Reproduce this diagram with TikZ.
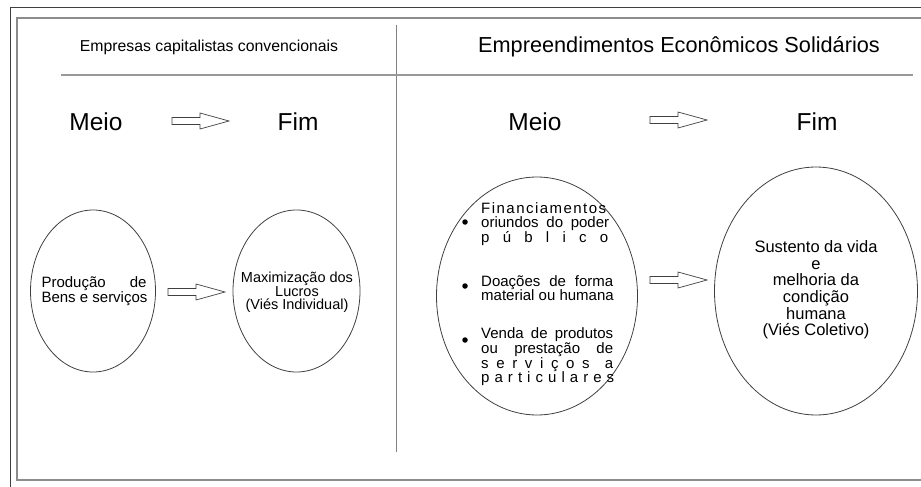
\documentclass[tikz,border=0pt]{standalone}
\usepackage{fontspec}
\setmainfont{Liberation Sans}
\usetikzlibrary{shapes.geometric}
\def\spreadit#1{\ifx#1\relax\else#1\hfill\expandafter\spreadit\fi}
\newcommand{\sprline}[2]{\hbox to #1{\spreadit#2\relax\unskip}}
\newcommand{\jline}[2]{\makebox[#1][s]{#2}}
\tikzset{
  outerframe/.style={draw=black!75, line width=1pt},
  innerframe/.style={draw=black!45, line width=1.6pt},
  sepline/.style={draw=black!50, line width=1pt},
  oval/.style={ellipse, draw=black!75, line width=0.8pt, inner sep=0pt},
  arrowline/.style={draw=black!75, line width=0.7pt},
  hdrsmall/.style={font=\fontsize{15.8}{18}\selectfont, inner sep=0pt},
  hdrbig/.style={font=\fontsize{21.7}{24}\selectfont, inner sep=0pt},
  mfword/.style={font=\fontsize{24.5}{28}\selectfont, inner sep=0pt},
  bullet/.style={circle, fill=black, inner sep=0pt, minimum size=5.5pt},
  blockarr/.pic={\path[arrowline] (0,-3.5) -- (28,-3.5) -- (28,-8) -- (57,0) -- (28,8) -- (28,3.5) -- (0,3.5) -- cycle;}
}
\begin{document}
\begin{tikzpicture}[x=1pt,y=-1pt]
\useasboundingbox (0,0) rectangle (921,487);
% frames
\draw[outerframe] (10,487) -- (10,8) -- (921,8);
\draw[innerframe] (921,18) -- (17,18) -- (17,480) -- (921,480);
\draw[sepline] (396,25) -- (396,452);
\draw[draw=black!40, line width=1.2pt] (61,75) -- (913,75);
% headers
\node[hdrsmall] (hl) at (209,47) {Empresas capitalistas convencionais};
\node[hdrbig] (hr) at (679,47) {Empreendimentos Econômicos Solidários};
\node[mfword] (m1) at (96,122) {Meio};
\node[mfword] (f1) at (298,122) {Fim};
\node[mfword] (m2) at (535,122) {Meio};
\node[mfword] (f2) at (817,122) {Fim};
\pic at (172,121) {blockarr};
\pic at (650,120) {blockarr};
% ellipses
\node[oval, minimum width=125pt, minimum height=162pt] (e1) at (93,291) {};
\node[oval, minimum width=127pt, minimum height=162pt] (e2) at (296.5,291) {};
\node[oval, minimum width=201pt, minimum height=238pt] (e3) at (537,296) {};
\node[oval, minimum width=203pt, minimum height=248pt] (e4) at (816,291) {};
\pic at (168,292) {blockarr};
\pic at (650,280) {blockarr};
% left texts
\node[font=\fontsize{15}{14}\selectfont, align=left, inner sep=0pt] (t1) at (94.5,291)
  {\jline{105pt}{Produção de}\\Bens e serviços};
\node[font=\fontsize{14.5}{13}\selectfont, align=center, inner sep=0pt] (t2) at (297,292.5)
  {Maximização dos\\Lucros\\(Viés Individual)};
% right texts
\node[font=\fontsize{15}{14.3}\selectfont, align=left, inner sep=0pt, anchor=west] (g1) at (481,224)
  {\sprline{125pt}{Financiamentos}\\\jline{128pt}{oriundos do poder}\\\sprline{127pt}{público}};
\node[font=\fontsize{15}{14.5}\selectfont, align=left, inner sep=0pt, anchor=west] (g2) at (481,288)
  {\jline{132pt}{Doações de forma}\\material ou humana};
\node[font=\fontsize{15}{14.6}\selectfont, align=left, inner sep=0pt, anchor=west] (g3) at (481,357)
  {\jline{132pt}{Venda de produtos}\\\jline{132pt}{ou prestação de}\\\hbox to 132pt{\spreadit serviços\relax\hfill a}\\\sprline{133pt}{particulares}};
\node[bullet] (b1) at (465,222) {};
\node[bullet] (b2) at (465,286) {};
\node[bullet] (b3) at (465,340) {};
\node[font=\fontsize{16.5}{16.6}\selectfont, align=center, inner sep=0pt] (t4) at (816,290)
  {Sustento da vida\\e\\melhoria da\\condição\\humana\\(Viés Coletivo)};
\end{tikzpicture}
\end{document}
